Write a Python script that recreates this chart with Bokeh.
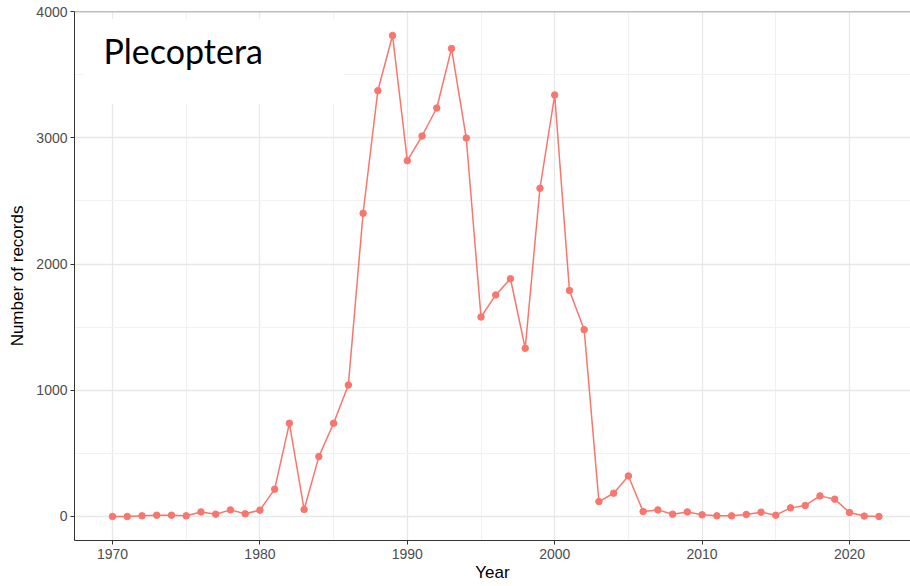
from bokeh.plotting import figure
from bokeh.models import (Range1d, SingleIntervalTicker, Label, BoxAnnotation, Span)
from bokeh.embed import file_html
from bokeh.resources import INLINE

years = list(range(1970, 2023))
records = [0, 0, 5, 10, 10, 5, 36, 18, 52, 21,
           50, 216, 738, 55, 474, 738, 1041, 2402, 3373, 3810,
           2819, 3014, 3236, 3707, 2998, 1580, 1755, 1883, 1332, 2600,
           3339, 1790, 1480, 118, 184, 321, 39, 52, 18, 36,
           13, 5, 5, 16, 34, 10, 68, 87, 163, 137,
           31, 3, 0]
title_text = "Plecoptera"
x_label = "Year"
y_label = "Number of records"

col = "#F8766D"

p = figure(width=910, height=586, output_backend="svg", toolbar_location=None,
           x_range=Range1d(1967.42, 2024.14), y_range=Range1d(-190.5, 4000.5),
           min_border_left=74, min_border_right=0, min_border_top=11, min_border_bottom=46)
p.background_fill_color = "white"
p.border_fill_color = "white"
p.outline_line_color = None

p.xaxis.ticker = SingleIntervalTicker(interval=10, num_minor_ticks=2)
p.yaxis.ticker = SingleIntervalTicker(interval=1000, num_minor_ticks=2)

p.xgrid.grid_line_color = "#E8E8E8"
p.ygrid.grid_line_color = "#E8E8E8"
p.xgrid.grid_line_width = 1.3
p.ygrid.grid_line_width = 1.3
p.xgrid.minor_grid_line_color = "#F1F1F1"
p.ygrid.minor_grid_line_color = "#F1F1F1"
p.xgrid.minor_grid_line_width = 1
p.ygrid.minor_grid_line_width = 1

for ax in (p.xaxis, p.yaxis):
    ax.axis_line_color = "#333333"
    ax.axis_line_width = 1
    ax.major_tick_line_color = "#333333"
    ax.major_tick_out = 4
    ax.major_tick_in = 0
    ax.minor_tick_line_color = None
    ax.major_label_text_font = "Liberation Sans"
    ax.major_label_text_font_size = "14px"
    ax.major_label_text_color = "#4D4D4D"
    ax.axis_label_text_font = "Liberation Sans"
    ax.axis_label_text_font_size = "17px"
    ax.axis_label_text_font_style = "normal"
    ax.axis_label_text_color = "black"

p.xaxis.major_label_standoff = 4
p.yaxis.major_label_standoff = 3
p.xaxis.axis_label = x_label
p.yaxis.axis_label = y_label
p.xaxis.axis_label_standoff = 1
p.yaxis.axis_label_standoff = 6

top_line = Span(location=4000, dimension="width", line_color="#8C8C8C", line_width=1.2)
p.add_layout(top_line)

box = BoxAnnotation(left=1968.03, right=1985.67, top=3942, bottom=3270,
                    fill_color="white", fill_alpha=1.0, line_color=None, level="underlay")
p.add_layout(box)

p.line(years, records, line_color=col, line_width=1.5)
p.scatter(years, records, size=6.5, fill_color=col, line_color=col)

lab = Label(x=1969.39, y=3690, text=title_text, text_font="Lato", text_font_size="34px",
            text_color="black", text_baseline="alphabetic", text_align="left")
p.add_layout(lab)

open("out.html", "w").write(file_html(p, INLINE))
